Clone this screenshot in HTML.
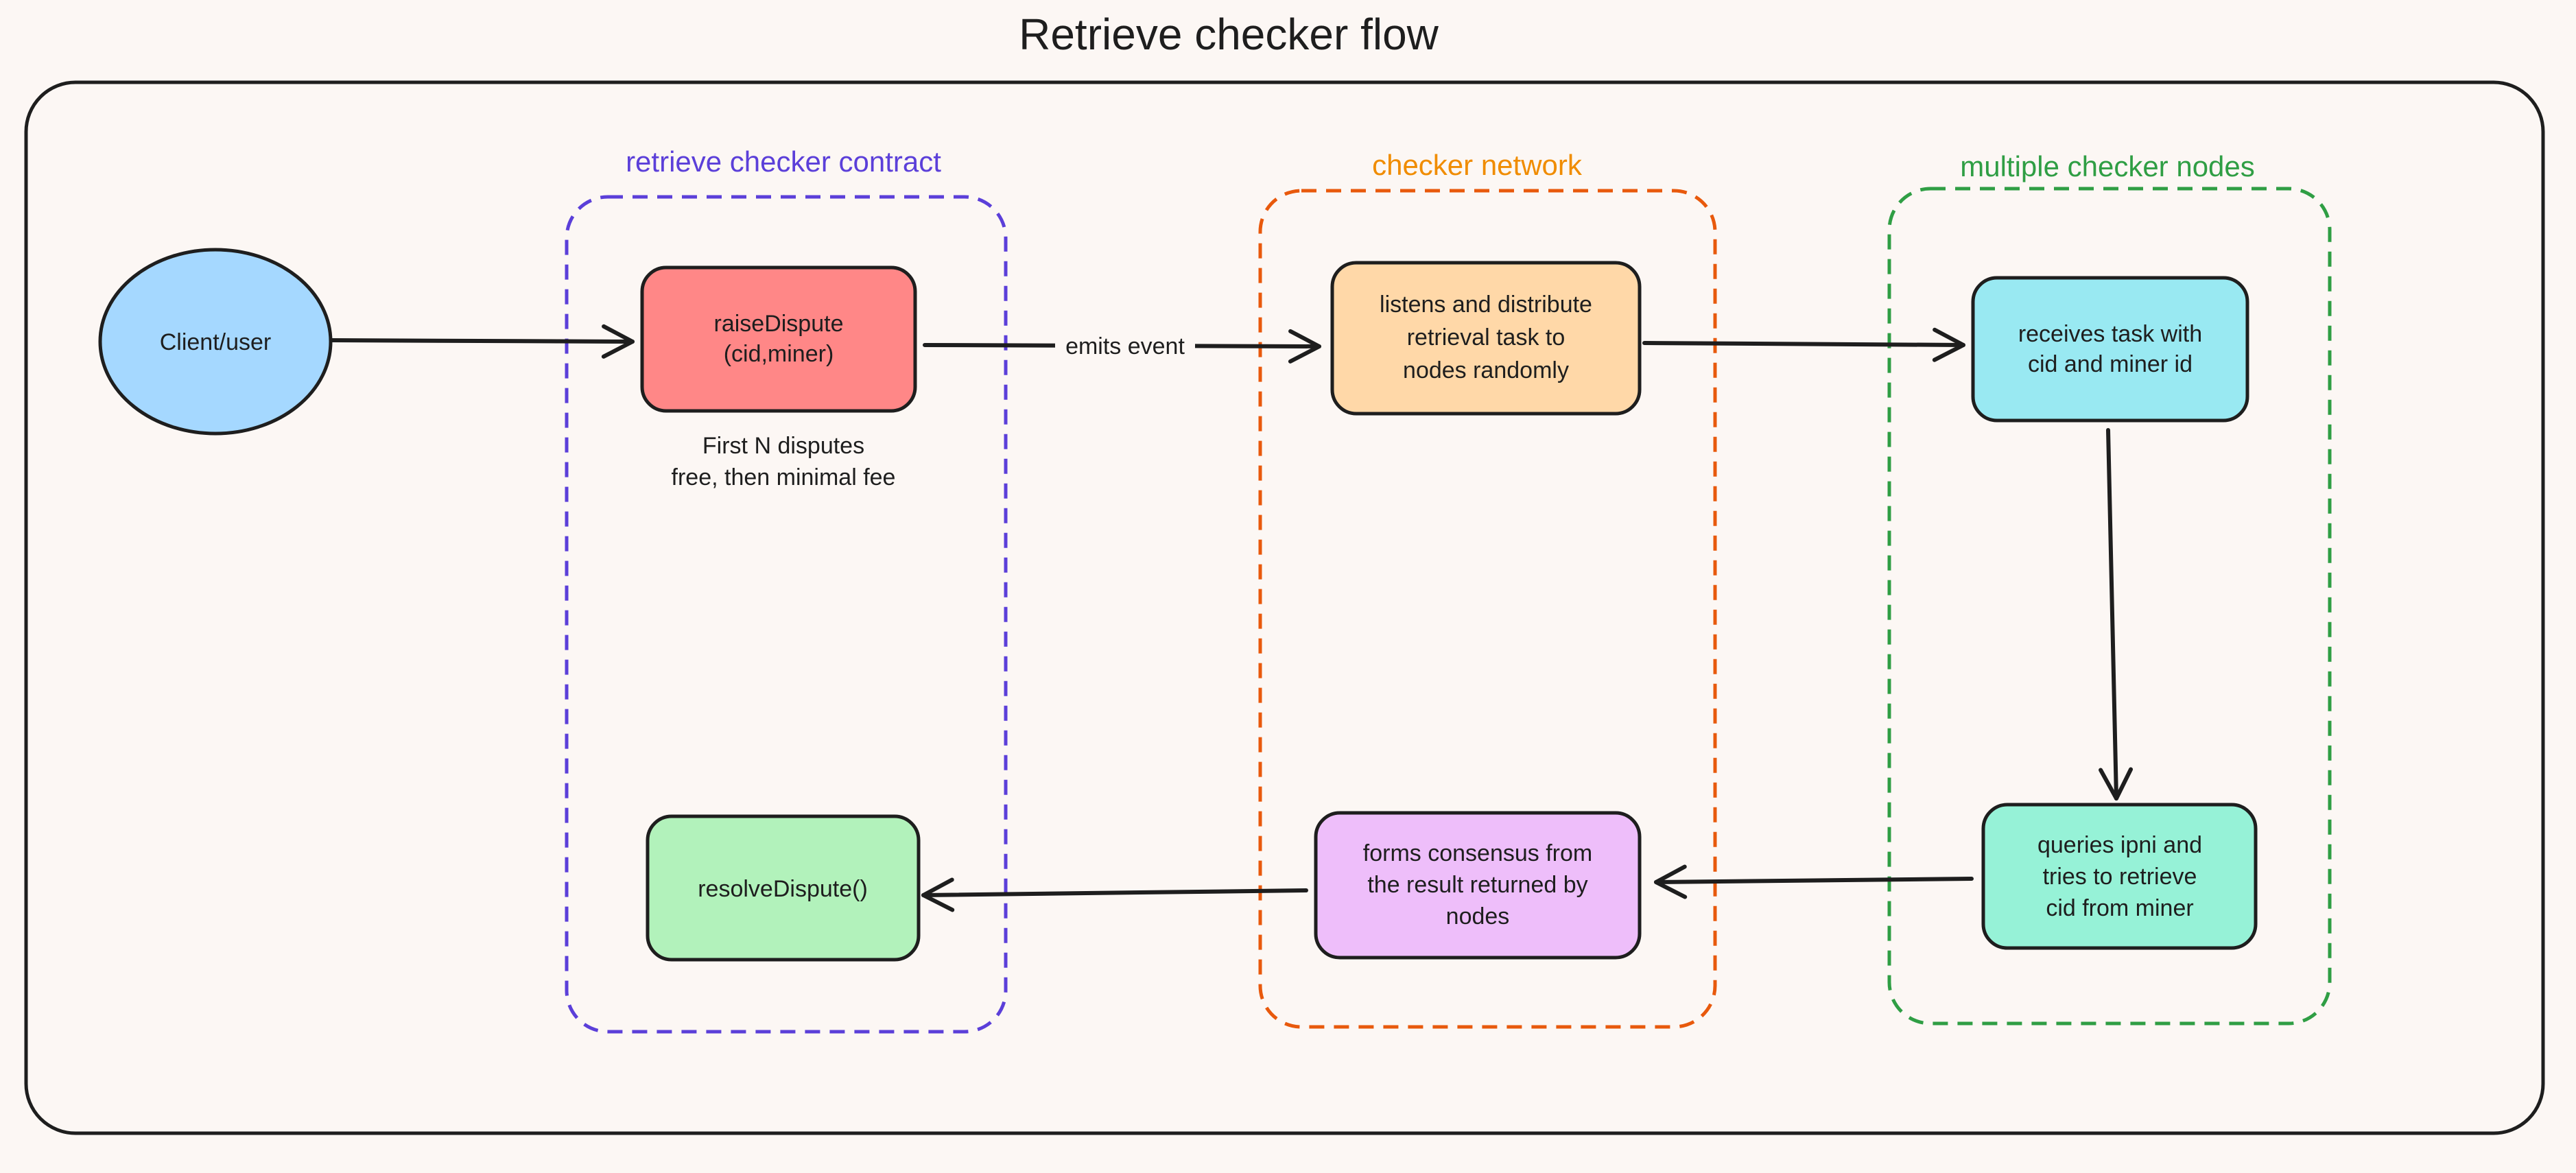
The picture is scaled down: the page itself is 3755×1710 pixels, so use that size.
<!DOCTYPE html>
<html><head><meta charset="utf-8"><style>
html,body{margin:0;padding:0;background:#fcf7f4;}
svg{display:block;}
text{font-family:"Liberation Sans",sans-serif;fill:#1e1e1e;}
</style></head><body>
<svg width="3755" height="1710" viewBox="0 0 3755 1710" xmlns="http://www.w3.org/2000/svg">
<defs>
<marker id="ah" markerWidth="60" markerHeight="60" refX="50" refY="30" orient="auto" markerUnits="userSpaceOnUse">
<path d="M8,8 L50,30 L8,52" fill="none" stroke="#1e1e1e" stroke-width="6" stroke-linecap="round" stroke-linejoin="round"/>
</marker>
</defs>
<rect width="3755" height="1710" fill="#fcf7f4"/>
<text x="1791" y="72" font-size="64" text-anchor="middle">Retrieve checker flow</text>
<rect x="38" y="120" width="3669" height="1532" rx="72" fill="none" stroke="#1e1e1e" stroke-width="5"/>

<rect x="826" y="287" width="640" height="1217" rx="60" fill="none" stroke="#5b3fd9" stroke-width="5" stroke-dasharray="22 14"/>
<text x="1142" y="250" font-size="42" text-anchor="middle" style="fill:#5b3fd9">retrieve checker contract</text>
<rect x="1837" y="278" width="663" height="1219" rx="60" fill="none" stroke="#e8590c" stroke-width="5" stroke-dasharray="22 14"/>
<text x="2153" y="255" font-size="42" text-anchor="middle" style="fill:#f08c00">checker network</text>
<rect x="2754" y="275" width="642" height="1217" rx="60" fill="none" stroke="#2f9e44" stroke-width="5" stroke-dasharray="22 14"/>
<text x="3072" y="257" font-size="42" text-anchor="middle" style="fill:#2f9e44">multiple checker nodes</text>

<ellipse cx="314" cy="498" rx="168" ry="134" fill="#a5d8ff" stroke="#1e1e1e" stroke-width="5"/>
<text x="314" y="510" font-size="34" text-anchor="middle">Client/user</text>

<rect x="936" y="390" width="398" height="209" rx="35" fill="#ff8787" stroke="#1e1e1e" stroke-width="5"/>
<text x="1135" y="483" font-size="34" text-anchor="middle">raiseDispute</text>
<text x="1135" y="527" font-size="34" text-anchor="middle">(cid,miner)</text>
<text x="1142" y="661" font-size="34" text-anchor="middle">First N disputes</text>
<text x="1142" y="707" font-size="34" text-anchor="middle">free, then minimal fee</text>

<rect x="1942" y="383" width="448" height="220" rx="35" fill="#ffd8a8" stroke="#1e1e1e" stroke-width="5"/>
<text x="2166" y="455" font-size="34" text-anchor="middle">listens and distribute</text>
<text x="2166" y="503" font-size="34" text-anchor="middle">retrieval task to</text>
<text x="2166" y="551" font-size="34" text-anchor="middle">nodes randomly</text>

<rect x="2876" y="405" width="400" height="208" rx="35" fill="#99e9f2" stroke="#1e1e1e" stroke-width="5"/>
<text x="3076" y="498" font-size="34" text-anchor="middle">receives task with</text>
<text x="3076" y="542" font-size="34" text-anchor="middle">cid and miner id</text>

<rect x="2891" y="1173" width="397" height="209" rx="35" fill="#96f2d7" stroke="#1e1e1e" stroke-width="5"/>
<text x="3090" y="1243" font-size="34" text-anchor="middle">queries ipni and</text>
<text x="3090" y="1289" font-size="34" text-anchor="middle">tries to retrieve</text>
<text x="3090" y="1335" font-size="34" text-anchor="middle">cid from miner</text>

<rect x="1918" y="1185" width="472" height="211" rx="35" fill="#eebefa" stroke="#1e1e1e" stroke-width="5"/>
<text x="2154" y="1255" font-size="34" text-anchor="middle">forms consensus from</text>
<text x="2154" y="1301" font-size="34" text-anchor="middle">the result returned by</text>
<text x="2154" y="1347" font-size="34" text-anchor="middle">nodes</text>

<rect x="944" y="1190" width="395" height="209" rx="35" fill="#b2f2bb" stroke="#1e1e1e" stroke-width="5"/>
<text x="1141" y="1307" font-size="34" text-anchor="middle">resolveDispute()</text>

<g stroke="#1e1e1e" stroke-width="6" fill="none" stroke-linecap="round" marker-end="url(#ah)">
<line x1="484" y1="496" x2="922" y2="498"/>
<line x1="1348" y1="503" x2="1923" y2="505"/>
<line x1="2397" y1="500" x2="2862" y2="503"/>
<line x1="3073" y1="627" x2="3085" y2="1164"/>
<line x1="2874" y1="1281" x2="2414" y2="1286"/>
<line x1="1904" y1="1298" x2="1346" y2="1305"/>
</g>
<rect x="1538" y="478" width="204" height="54" fill="#fcf7f4"/>
<text x="1640" y="516" font-size="34" text-anchor="middle">emits event</text>
</svg>
</body></html>
